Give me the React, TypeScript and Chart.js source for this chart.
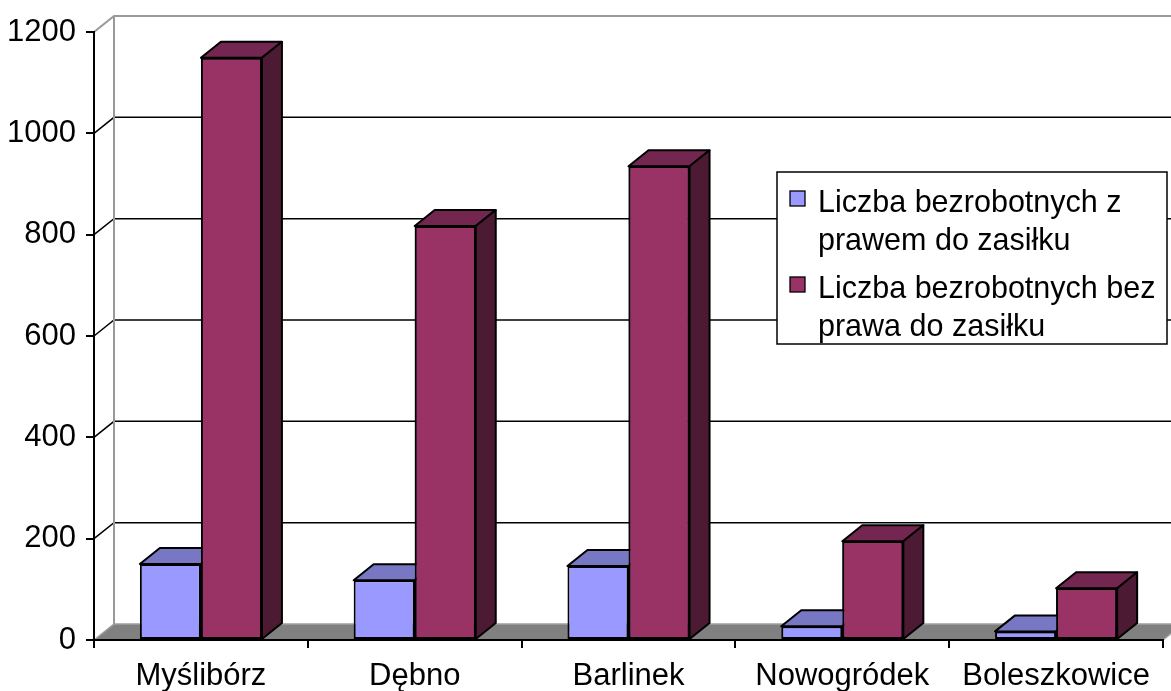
import React, { useEffect, useRef } from "react";
import { Chart, registerables } from "chart.js";

Chart.register(...registerables);

const categories = ["Myślibórz", "Dębno", "Barlinek", "Nowogródek", "Boleszkowice"];
const withBenefit = [150, 118, 146, 27, 17];
const withoutBenefit = [1149, 817, 935, 195, 102];
const seriesLabelLines = [
  ["Liczba bezrobotnych z", "prawem do zasiłku"],
  ["Liczba bezrobotnych bez", "prawa do zasiłku"],
];
const yTicks = [0, 200, 400, 600, 800, 1000, 1200];

const FONT = "'Liberation Sans', Arial, sans-serif";
const FONT_SIZE = 31;
const LEGEND_FONT_SIZE = 30.5;
const DX = 20;
const DY = -16;
const frontColors = ["#9999FF", "#993366"];
const topColors = ["#7777C4", "#73264F"];
const sideColors = ["#5A5A99", "#4D1A33"];

const App: React.FC = () => {
  const ref = useRef<HTMLCanvasElement | null>(null);

  useEffect(() => {
    document.body.style.margin = "0";
    const canvas = ref.current;
    if (!canvas) return;

    const backdrop = {
      id: "backdrop",
      beforeDraw(chart: any) {
        const { ctx, chartArea, scales } = chart;
        const { left, right, top, bottom } = chartArea;
        const y = scales.y;
        ctx.save();
        ctx.fillStyle = "#ffffff";
        ctx.fillRect(0, 0, chart.width, chart.height);
        // floor
        ctx.beginPath();
        ctx.moveTo(left, bottom);
        ctx.lineTo(right, bottom);
        ctx.lineTo(right + DX, bottom + DY);
        ctx.lineTo(left + DX, bottom + DY);
        ctx.closePath();
        ctx.fillStyle = "#808080";
        ctx.fill();
        ctx.strokeStyle = "#a0a0a0";
        ctx.lineWidth = 1.5;
        ctx.beginPath();
        ctx.moveTo(left, bottom);
        ctx.lineTo(left + DX, bottom + DY);
        ctx.lineTo(right + DX, bottom + DY);
        ctx.lineTo(right, bottom);
        ctx.stroke();
        // gridlines on side wall and back wall
        yTicks.forEach((v) => {
          if (v === 0) return;
          const py = y.getPixelForValue(v);
          const isTop = v === yTicks[yTicks.length - 1];
          ctx.strokeStyle = isTop ? "#999999" : "#000000";
          ctx.lineWidth = isTop ? 2 : 1.5;
          ctx.beginPath();
          ctx.moveTo(left, py);
          ctx.lineTo(left + DX, py + DY);
          ctx.lineTo(right + DX, py + DY);
          ctx.stroke();
        });
        // back wall left edge
        ctx.strokeStyle = "#999999";
        ctx.lineWidth = 2;
        ctx.beginPath();
        ctx.moveTo(left + DX, top + DY);
        ctx.lineTo(left + DX, bottom + DY);
        ctx.stroke();
        ctx.restore();
      },
    };

    const drawExtrusion = (ctx: any, bar: any, di: number) => {
      const { x, y, width, base } = bar.getProps(["x", "y", "width", "base"], true);
      const l = x - width / 2;
      const r = x + width / 2;
      ctx.save();
      ctx.lineWidth = 2;
      ctx.lineJoin = "round";
      ctx.strokeStyle = "#000000";
      ctx.beginPath();
      ctx.moveTo(l, y);
      ctx.lineTo(r, y);
      ctx.lineTo(r + DX, y + DY);
      ctx.lineTo(l + DX, y + DY);
      ctx.closePath();
      ctx.fillStyle = topColors[di];
      ctx.fill();
      ctx.stroke();
      ctx.beginPath();
      ctx.moveTo(r, y);
      ctx.lineTo(r + DX, y + DY);
      ctx.lineTo(r + DX, base + DY);
      ctx.lineTo(r, base);
      ctx.closePath();
      ctx.fillStyle = sideColors[di];
      ctx.fill();
      ctx.stroke();
      ctx.restore();
    };

    const extrude = {
      id: "extrude",
      afterDatasetsDraw(chart: any) {
        const { ctx } = chart;
        const n = chart.data.datasets.length;
        for (let di = 0; di < n; di++) {
          const meta = chart.getDatasetMeta(di);
          if (di > 0) {
            meta.data.forEach((bar: any) => bar.draw(ctx));
          }
          meta.data.forEach((bar: any) => drawExtrusion(ctx, bar, di));
        }
      },
    };

    const legendBox = {
      id: "legendBox",
      afterDraw(chart: any) {
        const { ctx } = chart;
        const bx = 777, by = 172, bw = 390, bh = 172;
        ctx.save();
        ctx.fillStyle = "#ffffff";
        ctx.fillRect(bx, by, bw, bh);
        ctx.strokeStyle = "#000000";
        ctx.lineWidth = 1.5;
        ctx.strokeRect(bx, by, bw, bh);
        ctx.font = `${LEGEND_FONT_SIZE}px ${FONT}`;
        ctx.textBaseline = "alphabetic";
        ctx.textAlign = "left";
        const baselines = [212, 298];
        chart.data.datasets.forEach((ds: any, i: number) => {
          const base = baselines[i];
          ctx.fillStyle = frontColors[i];
          ctx.fillRect(790, base - 21, 15, 15);
          ctx.strokeStyle = "#000000";
          ctx.lineWidth = 1.3;
          ctx.strokeRect(790, base - 21, 15, 15);
          ctx.fillStyle = "#000000";
          seriesLabelLines[i].forEach((line, j) => {
            ctx.fillText(line, 818, base + j * 38);
          });
        });
        ctx.restore();
      },
    };

    const chart = new Chart(canvas, {
      type: "bar",
      data: {
        labels: categories,
        datasets: [
          {
            label: seriesLabelLines[0].join(" "),
            data: withBenefit,
            backgroundColor: frontColors[0],
            borderColor: "#000000",
            borderWidth: 2,
            borderSkipped: false,
          },
          {
            label: seriesLabelLines[1].join(" "),
            data: withoutBenefit,
            backgroundColor: frontColors[1],
            borderColor: "#000000",
            borderWidth: 2,
            borderSkipped: false,
          },
        ],
      },
      options: {
        animation: false,
        responsive: false,
        devicePixelRatio: 1,
        layout: { padding: { top: 32, right: 8, left: 0, bottom: 0 } },
        datasets: {
          bar: { categoryPercentage: 0.571, barPercentage: 1 },
        },
        plugins: {
          legend: { display: false },
          tooltip: { enabled: false },
        },
        scales: {
          x: {
            afterFit: (s: any) => {
              s.height = 51;
            },
            grid: {
              offset: true,
              drawOnChartArea: false,
              drawTicks: true,
              tickLength: 8,
              color: "#000000",
              lineWidth: 2,
            },
            border: { display: true, color: "#000000", width: 2 },
            ticks: {
              color: "#000000",
              font: { family: FONT, size: FONT_SIZE },
              padding: 10,
              maxRotation: 0,
              autoSkip: false,
            },
          },
          y: {
            min: 0,
            max: 1200,
            afterFit: (s: any) => {
              s.width = 94;
            },
            afterBuildTicks: (s: any) => {
              s.ticks = yTicks.map((v) => ({ value: v }));
            },
            grid: {
              drawOnChartArea: false,
              drawTicks: true,
              tickLength: 8,
              color: "#000000",
              lineWidth: 2,
            },
            border: { display: true, color: "#000000", width: 2 },
            ticks: {
              color: "#000000",
              font: { family: FONT, size: FONT_SIZE },
              padding: 10,
              callback: (v: any) => String(v),
            },
          },
        },
      },
      plugins: [backdrop, extrude, legendBox],
    });

    return () => chart.destroy();
  }, []);

  return (
    <div style={{ position: "absolute", left: 0, top: 0, width: 1171, height: 691 }}>
      <canvas ref={ref} width={1171} height={691} style={{ width: 1171, height: 691, display: "block" }} />
    </div>
  );
};

export default App;
